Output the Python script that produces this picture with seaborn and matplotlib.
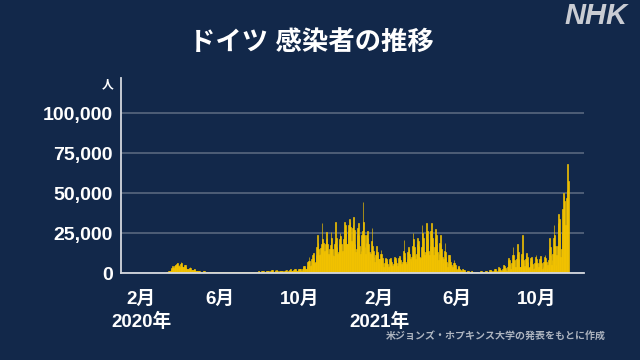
import numpy as np
import pandas as pd
import matplotlib
matplotlib.use("Agg")
import matplotlib.pyplot as plt
import matplotlib.dates as mdates
import seaborn as sns

# daily new cases in Germany (thousands), one row per week (Wed..Tue), first day 2020-01-22
start_date = "2020-01-22"

cases_2020_spring_summer = [
    [0, 0, 0, 0, 0, 0, 0],
    [0, 0, 0, 0, 0, 0, 0],
    [0, 0, 0, 0, 0, 0, 0],
    [0, 0, 0, 0, 0, 0, 0],
    [0, 0, 0, 0, 0, 0, 0],
    [0.0, 0.01, 0.01, 0.02, 0.03, 0.04, 0.05],
    [0.05, 0.1, 0.2, 0.2, 0.1, 0.2, 0.3],
    [0.4, 0.8, 0.9, 1.2, 1.0, 1.0, 1.4],
    [2.8, 2.9, 4.5, 4.0, 3.0, 4.2, 4.8],
    [4.9, 5.9, 6.5, 6.0, 4.5, 4.8, 4.0],
    [5.5, 6.8, 6.2, 4.1, 3.8, 3.5, 3.9],
    [5.2, 4.7, 3.8, 2.8, 2.5, 2.0, 2.2],
    [3.4, 3.6, 3.0, 2.0, 1.8, 1.9, 1.8],
    [2.4, 2.3, 1.6, 1.4, 1.0, 1.2, 1.1],
    [1.5, 1.4, 1.0, 0.9, 0.7, 0.6, 0.8],
    [1.2, 1.3, 1.1, 0.7, 0.6, 0.9, 0.9],
    [0.9, 0.9, 0.7, 0.6, 0.5, 0.5, 0.7],
    [0.8, 0.7, 0.7, 0.6, 0.5, 0.5, 0.6],
    [0.7, 0.7, 0.6, 0.5, 0.4, 0.4, 0.5],
    [0.6, 0.6, 0.5, 0.5, 0.4, 0.4, 0.5],
    [0.7, 0.6, 0.5, 0.4, 0.4, 0.5, 0.5],
    [0.7, 0.8, 0.9, 0.7, 0.5, 0.6, 0.7],
    [0.7, 0.6, 0.6, 0.5, 0.4, 0.5, 0.6],
    [0.6, 0.6, 0.5, 0.5, 0.4, 0.4, 0.5],
    [0.6, 0.6, 0.5, 0.5, 0.4, 0.4, 0.5],
    [0.6, 0.7, 0.7, 0.6, 0.4, 0.5, 0.6],
    [0.8, 0.9, 0.9, 0.7, 0.5, 0.6, 0.8],
    [0.9, 1.0, 1.0, 0.8, 0.6, 0.7, 1.0],
    [1.1, 1.2, 1.2, 0.9, 0.7, 0.7, 1.2],
    [1.4, 1.4, 1.5, 1.1, 0.8, 0.9, 1.4],
    [1.7, 1.6, 2.0, 1.4, 0.9, 0.9, 1.6],
    [1.5, 1.6, 1.5, 1.4, 0.9, 0.8, 1.4],
    [1.3, 1.4, 1.5, 1.3, 0.9, 0.8, 1.5],
    [1.7, 1.5, 2.0, 1.6, 0.9, 1.0, 1.5],
    [2.1, 2.0, 2.3, 1.5, 1.0, 1.1, 1.8],
    [2.1, 2.5, 2.3, 1.6, 1.1, 1.2, 2.1],
    [2.5, 2.7, 2.6, 2.3, 1.4, 1.3, 2.8],
]

cases_2020_autumn_2021_spring = [
    [4.0, 4.1, 4.5, 3.4, 2.5, 2.3, 4.1],
    [6.6, 7.3, 9.8, 7.5, 4.3, 4.8, 8.5],
    [11.3, 12.0, 12.5, 9.1, 6.0, 6.8, 11.4],
    [16.0, 24.0, 19.0, 15.0, 11.0, 12.0, 15.5],
    [18.0, 31.0, 21.0, 19.0, 13.0, 14.0, 18.0],
    [21.0, 25.5, 22.0, 18.0, 12.0, 11.0, 15.0],
    [17.5, 25.5, 22.0, 15.0, 11.5, 10.5, 18.0],
    [20.0, 32.0, 22.0, 16.5, 12.0, 13.0, 18.0],
    [21.0, 25.0, 23.0, 18.0, 13.0, 14.0, 21.0],
    [27.0, 32.0, 30.0, 26.0, 18.0, 18.0, 26.0],
    [30.0, 33.7, 32.0, 29.0, 20.0, 19.0, 28.0],
    [30.0, 35.0, 27.0, 18.0, 13.0, 15.0, 24.0],
    [28.0, 31.0, 24.0, 17.0, 12.0, 14.0, 24.0],
    [26.0, 44.5, 32.0, 24.0, 16.0, 12.0, 19.0],
    [24.0, 26.5, 22.0, 18.0, 13.0, 8.0, 12.0],
    [20.0, 28.0, 17.0, 14.0, 10.0, 7.0, 11.0],
    [14.0, 17.0, 13.0, 12.0, 9.0, 6.0, 9.0],
    [12.0, 14.4, 12.0, 9.5, 6.0, 4.0, 6.0],
    [9.0, 9.6, 9.0, 7.5, 5.5, 4.0, 4.5],
    [8.5, 9.3, 8.0, 7.0, 5.0, 4.5, 5.5],
    [9.0, 10.0, 9.5, 8.0, 6.0, 4.5, 6.0],
    [9.5, 10.6, 9.5, 8.0, 5.5, 5.0, 7.0],
    [14.0, 20.6, 12.5, 10.0, 7.0, 5.5, 9.0],
    [13.0, 16.0, 15.0, 12.0, 9.0, 7.5, 10.0],
    [17.0, 25.0, 21.0, 16.0, 11.0, 9.0, 12.0],
    [18.0, 22.0, 20.0, 17.0, 10.0, 9.0, 9.5],
    [16.0, 30.0, 25.0, 22.0, 14.0, 11.0, 13.0],
    [25.0, 31.0, 26.0, 21.0, 14.0, 11.0, 17.0],
    [26.0, 31.5, 26.0, 22.0, 17.0, 11.0, 16.0],
    [22.0, 27.5, 24.0, 18.0, 13.0, 8.0, 12.0],
    [19.0, 24.0, 18.0, 15.0, 10.0, 6.0, 9.0],
    [14.0, 18.7, 13.0, 10.0, 7.0, 4.0, 6.0],
    [11.0, 11.5, 9.0, 7.0, 5.0, 3.0, 4.0],
    [6.0, 8.0, 6.5, 5.0, 3.0, 2.0, 2.5],
]

cases_2021_summer_autumn = [
    [3.5, 4.4, 3.5, 2.8, 1.8, 1.2, 1.5],
    [2.2, 2.5, 2.0, 1.6, 1.2, 0.7, 0.9],
    [1.3, 1.5, 1.1, 0.9, 0.6, 0.4, 0.6],
    [1.0, 1.0, 0.8, 0.6, 0.4, 0.3, 0.5],
    [0.9, 0.8, 0.7, 0.5, 0.3, 0.2, 0.5],
    [1.0, 1.0, 0.9, 0.6, 0.4, 0.3, 0.6],
    [1.4, 1.5, 1.2, 0.9, 0.5, 0.5, 0.9],
    [2.0, 1.9, 1.6, 1.2, 0.6, 0.6, 1.2],
    [2.8, 2.4, 2.2, 1.5, 0.8, 0.9, 1.8],
    [3.5, 3.0, 2.7, 1.8, 1.0, 1.1, 2.5],
    [5.0, 5.0, 4.5, 3.0, 1.6, 1.5, 3.9],
    [8.0, 9.3, 8.0, 5.5, 2.5, 2.5, 6.0],
    [11.5, 16.5, 11.0, 8.0, 4.0, 3.5, 9.0],
    [12.0, 18.0, 13.0, 9.0, 4.0, 4.0, 9.0],
    [12.0, 23.5, 12.5, 8.0, 4.0, 4.5, 8.5],
    [11.0, 12.5, 10.0, 7.0, 3.0, 4.0, 7.5],
    [9.5, 9.8, 8.5, 5.5, 2.5, 3.0, 6.5],
    [10.0, 11.0, 9.0, 6.0, 2.5, 3.5, 6.0],
    [9.0, 10.6, 9.0, 6.0, 2.5, 4.0, 7.0],
    [10.0, 11.0, 9.5, 7.0, 3.0, 5.0, 8.0],
    [15.0, 21.7, 16.0, 11.0, 5.0, 8.0, 12.0],
    [22.0, 30.0, 24.0, 17.0, 5.0, 11.0, 17.0],
    [31.0, 37.0, 34.0, 25.0, 10.0, 15.0, 25.0],
    [40.0, 50.0, 48.0, 45.0, 23.0, 30.0, 47.0],
    [52.0, 68.0, 57.5],
]

tick_dates = ["2020-02-01", "2020-06-01", "2020-10-01", "2021-02-01", "2021-06-01", "2021-10-01"]
tick_labels = ["2月\n2020年", "6月", "10月", "2月\n2021年", "6月", "10月"]
y_ticks = [0, 25000, 50000, 75000, 100000]

bg = "#12284a"
yellow = "#f5c400"
grid_c = "#53627a"
axis_c = "#d4d8de"

rows = cases_2020_spring_summer + cases_2020_autumn_2021_spring + cases_2021_summer_autumn
cases = np.array(sum(rows, []), dtype=float) * 1000
dates = pd.date_range(start_date, periods=len(cases), freq="D")
df = pd.DataFrame({"day": mdates.date2num(dates), "cases": cases})

sns.set_theme(style="white")
plt.rcParams["font.family"] = ["Liberation Sans", "Noto Sans CJK JP", "DejaVu Sans"]

fig = plt.figure(figsize=(6.4, 3.6), dpi=100, facecolor=bg)
ax = fig.add_axes([121 / 640, 1 - 273 / 360, 463 / 640, 195 / 360])
ax.set_facecolor(bg)

# thin edge in bar colour so the sub-pixel daily bars read as one solid area
sns.barplot(data=df, x="day", y="cases", native_scale=True, width=1.0,
            color=yellow, saturation=1, errorbar=None,
            edgecolor=yellow, linewidth=0.45, ax=ax)

ax.set_xlim(mdates.date2num(pd.Timestamp("2020-01-01")), mdates.date2num(pd.Timestamp("2021-12-13")))
ax.set_ylim(0, 122000)
ax.set_xlabel("")
ax.set_ylabel("")

ax.yaxis.grid(True, color=grid_c, lw=1.3)
ax.xaxis.grid(False)
ax.set_axisbelow(True)

for s in ["top", "right"]:
    ax.spines[s].set_visible(False)
for s in ["left", "bottom"]:
    ax.spines[s].set_color(axis_c)
    ax.spines[s].set_linewidth(1.3)
    ax.spines[s].set_zorder(5)

ax.set_yticks(y_ticks, labels=[f"{v:,}" for v in y_ticks])
ax.set_xticks(mdates.date2num(pd.to_datetime(tick_dates)), labels=tick_labels)
ax.tick_params(axis="y", length=4, width=1.2, color=axis_c, pad=2,
               labelsize=14, labelcolor="white")
ax.tick_params(axis="x", length=4, width=1.2, color=axis_c, pad=9,
               labelsize=13.5, labelcolor="white")
for lab in ax.get_xticklabels() + ax.get_yticklabels():
    lab.set_fontweight("bold")
    lab.set_linespacing(1.3)

fig.text(108 / 640, 1 - 85 / 360, "人", color="white", fontsize=8.5,
         fontweight="bold", ha="center", va="center")
fig.text(311 / 640, 1 - 42 / 360, "ドイツ 感染者の推移", color="white", fontsize=19,
         fontweight="bold", ha="center", va="center")
fig.text(596 / 640, 1 - 16 / 360, "NHK", color="#c9ccd3", fontsize=21,
         fontweight="heavy", fontstyle="italic", ha="center", va="center")
fig.text(606 / 640, 1 - 337 / 360, "米ジョンズ・ホプキンス大学の発表をもとに作成",
         color="#aeb5c0", fontsize=7.2, fontweight="bold", ha="right", va="center")

fig.savefig("out.png", dpi=100, facecolor=bg)
